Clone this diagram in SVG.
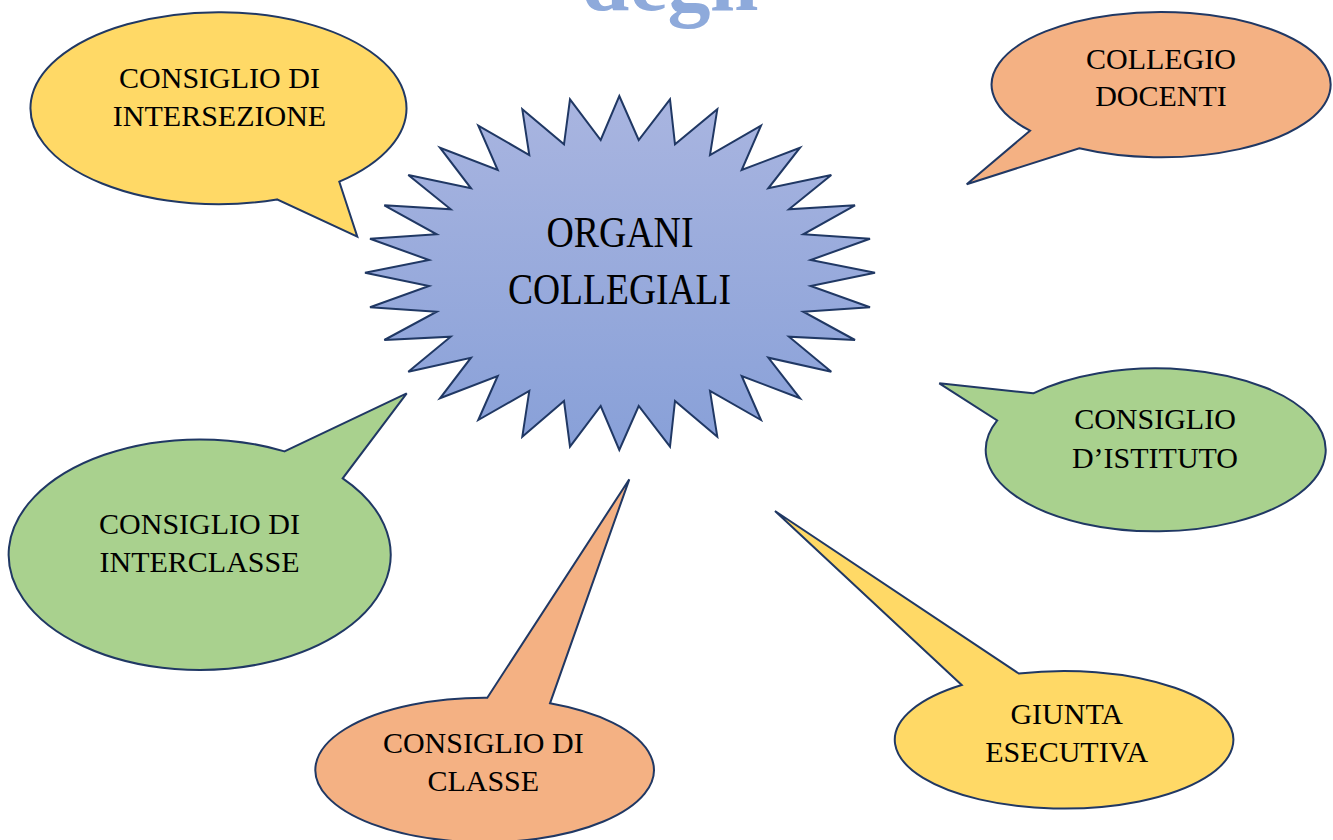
<svg xmlns="http://www.w3.org/2000/svg" width="1333" height="840" viewBox="0 0 1333 840">
<defs>
<linearGradient id="burstGrad" x1="0" y1="0" x2="0" y2="1">
<stop offset="0" stop-color="#A9B5E0"/>
<stop offset="1" stop-color="#88A0D8"/>
</linearGradient>
<style>
.shape{stroke:#203864;stroke-width:2;stroke-linejoin:miter}
.yellow{fill:#FFD966}
.orange{fill:#F4B183}
.green{fill:#A9D18E}
.lbl{font-family:"Liberation Serif","Times New Roman",serif;font-size:30px;fill:#000;text-anchor:middle}
.big{font-family:"Liberation Serif","Times New Roman",serif;font-size:44px;fill:#000;text-anchor:middle}
.title{font-family:"Liberation Serif","Times New Roman",serif;font-size:86px;font-weight:bold;fill:#8EAADB;text-anchor:middle}
</style>
</defs>
<rect width="1333" height="840" fill="#FFFFFF"/>
<text class="title" x="670" y="10">degli</text>

<g id="organi-collegiali">
<polygon class="shape" fill="url(#burstGrad)" stroke-width="1.5" points="619.3,96 638.7,140 670,99.3 675,144.3 717.3,109.3 710,155 761,125.7 741.7,170 800,147.7 768.3,188.3 831.3,175 789,209.3 855,205.3 803.3,234.3 870,238.7 810.7,260 875,272.7 810.7,286 870,307.3 803.3,311.7 855,340 789,336.7 831.3,371.7 768.3,357.7 800,398.3 741.7,376 761,420 710,391 717.3,436.7 675,401 670,446.7 638.7,406 619.3,450 600.7,406 570,446.7 564,401 522.3,436.7 529.3,391 478.3,420 497.7,376 440,398.3 471,357.7 408.3,371.7 450.7,336.7 384.3,340 436.7,311.7 370,307.3 429,286 365,272.7 429,260 370,238.7 436.7,234.3 384.3,205.3 450.7,209.3 408.3,175 471,188.3 440,147.7 497.7,170 478.3,125.7 529.3,155 522.3,109.3 564,144.3 570,99.3 600.7,140"/>
<text class="big" x="620" y="247" textLength="147" lengthAdjust="spacingAndGlyphs">ORGANI</text>
<text class="big" x="619.5" y="304" textLength="223" lengthAdjust="spacingAndGlyphs">COLLEGIALI</text>
</g>

<g id="connectors"></g>

<g id="consiglio-intersezione">
<path class="shape yellow" d="M339.3,181.7 L357.3,236.7 L276.9,199.4 A188,96 0 1 1 339.3,181.7 Z"/>
<text class="lbl" x="219.5" y="88.3">CONSIGLIO DI</text>
<text class="lbl" x="219.5" y="126">INTERSEZIONE</text>
</g>

<g id="collegio-docenti">
<path class="shape orange" d="M1030,130.7 L966.7,184.3 L1079.3,148.3 A169.5,72.7 0 1 0 1030,130.7 Z"/>
<text class="lbl" x="1161" y="69">COLLEGIO</text>
<text class="lbl" x="1161" y="106">DOCENTI</text>
</g>

<g id="consiglio-istituto">
<path class="shape green" d="M1033.3,393.3 L939.3,383.3 L997.2,420.4 A170,81.5 0 1 0 1033.3,393.3 Z"/>
<text class="lbl" x="1155" y="429.3">CONSIGLIO</text>
<text class="lbl" x="1155" y="468.3">D’ISTITUTO</text>
</g>

<g id="consiglio-interclasse">
<path class="shape green" d="M284.5,451.4 L406.7,393.3 L342.7,478.3 A191,115.3 0 1 1 284.5,451.4 Z"/>
<text class="lbl" x="199.5" y="534">CONSIGLIO DI</text>
<text class="lbl" x="199.5" y="572.3">INTERCLASSE</text>
</g>

<g id="consiglio-classe">
<path class="shape orange" d="M487.3,697.7 L629.3,479.3 L550,703.3 A169.3,72.3 0 1 1 487.3,697.7 Z"/>
<text class="lbl" x="483.3" y="753.3">CONSIGLIO DI</text>
<text class="lbl" x="483.3" y="790.7">CLASSE</text>
</g>

<g id="giunta-esecutiva">
<path class="shape yellow" d="M961.7,685 L775,511 L1018.8,673.5 A169.3,68.8 0 1 1 961.7,685 Z"/>
<text class="lbl" x="1066.7" y="724.3">GIUNTA</text>
<text class="lbl" x="1066.7" y="761.7">ESECUTIVA</text>
</g>
</svg>
